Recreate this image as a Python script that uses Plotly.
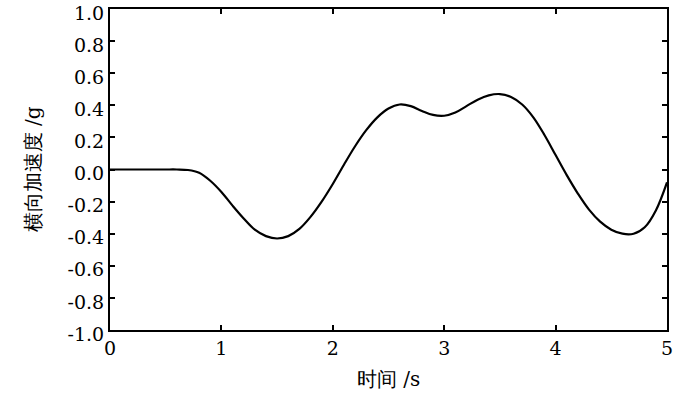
import plotly.graph_objects as go

time_s = [0.0, 0.1, 0.2, 0.3, 0.4, 0.5, 0.6, 0.7, 0.8, 0.9, 1.0, 1.1, 1.2, 1.3, 1.4, 1.5,
          1.6, 1.7, 1.8, 1.9, 2.0, 2.1, 2.2, 2.3, 2.4, 2.5, 2.6, 2.7, 2.8, 2.9, 3.0, 3.1,
          3.2, 3.3, 3.4, 3.5, 3.6, 3.7, 3.8, 3.9, 4.0, 4.1, 4.2, 4.3, 4.4, 4.5, 4.6, 4.7,
          4.8, 4.9, 5.0]
lat_acc = [0.0, 0.0, 0.0, 0.0, 0.0, 0.0, 0.0, -0.003, -0.02, -0.07, -0.14, -0.225, -0.305,
           -0.375, -0.415, -0.43, -0.415, -0.37, -0.295, -0.2, -0.09, 0.03, 0.145, 0.245,
           0.325, 0.38, 0.405, 0.395, 0.365, 0.34, 0.335, 0.355, 0.395, 0.435, 0.462, 0.47,
           0.452, 0.405, 0.325, 0.215, 0.09, -0.035, -0.15, -0.25, -0.325, -0.375, -0.4,
           -0.4, -0.36, -0.255, -0.08]

y_tick_vals = [1.0, 0.8, 0.6, 0.4, 0.2, 0.0, -0.2, -0.4, -0.6, -0.8, -1.0]
y_tick_text = ["1.0", "0.8", "0.6", "0.4", "0.2", "0.0", "-0.2", "-0.4", "-0.6", "-0.8", "-1.0"]
x_tick_vals = [0, 1, 2, 3, 4, 5]
x_tick_text = ["0", "1", "2", "3", "4", "5"]

SERIF = "DejaVu Serif"

fig = go.Figure()
fig.add_trace(go.Scatter(x=time_s, y=lat_acc, mode="lines",
                         line=dict(color="black", width=2.2, shape="spline", smoothing=1.0),
                         showlegend=False, hoverinfo="skip"))

axis_common = dict(showline=True, linewidth=2, linecolor="black", mirror="ticks",
                   ticks="inside", ticklen=5, tickwidth=1.5, tickcolor="black",
                   showgrid=False, zeroline=False, ticklabeloverflow="allow",
                   automargin=False)

fig.update_layout(
    width=700, height=395,
    margin=dict(l=110, r=33, t=9, b=65),
    paper_bgcolor="white", plot_bgcolor="white",
    font=dict(family=SERIF, size=19, color="black"),
    xaxis=dict(range=[0, 5], tickvals=x_tick_vals, ticktext=x_tick_text,
               tickfont=dict(family=SERIF, size=19, color="black"),
               title=dict(text="时间 /s", font=dict(family=SERIF, size=20, color="black"), standoff=14),
               **axis_common),
    yaxis=dict(range=[-1, 1], tickvals=y_tick_vals, ticktext=y_tick_text,
               tickfont=dict(family=SERIF, size=19, color="black"),
               ticklabelshift=4,
               title=dict(text="横向加速度 /g", font=dict(family=SERIF, size=20, color="black"), standoff=22),
               **axis_common),
)

fig.write_html("out.html")
